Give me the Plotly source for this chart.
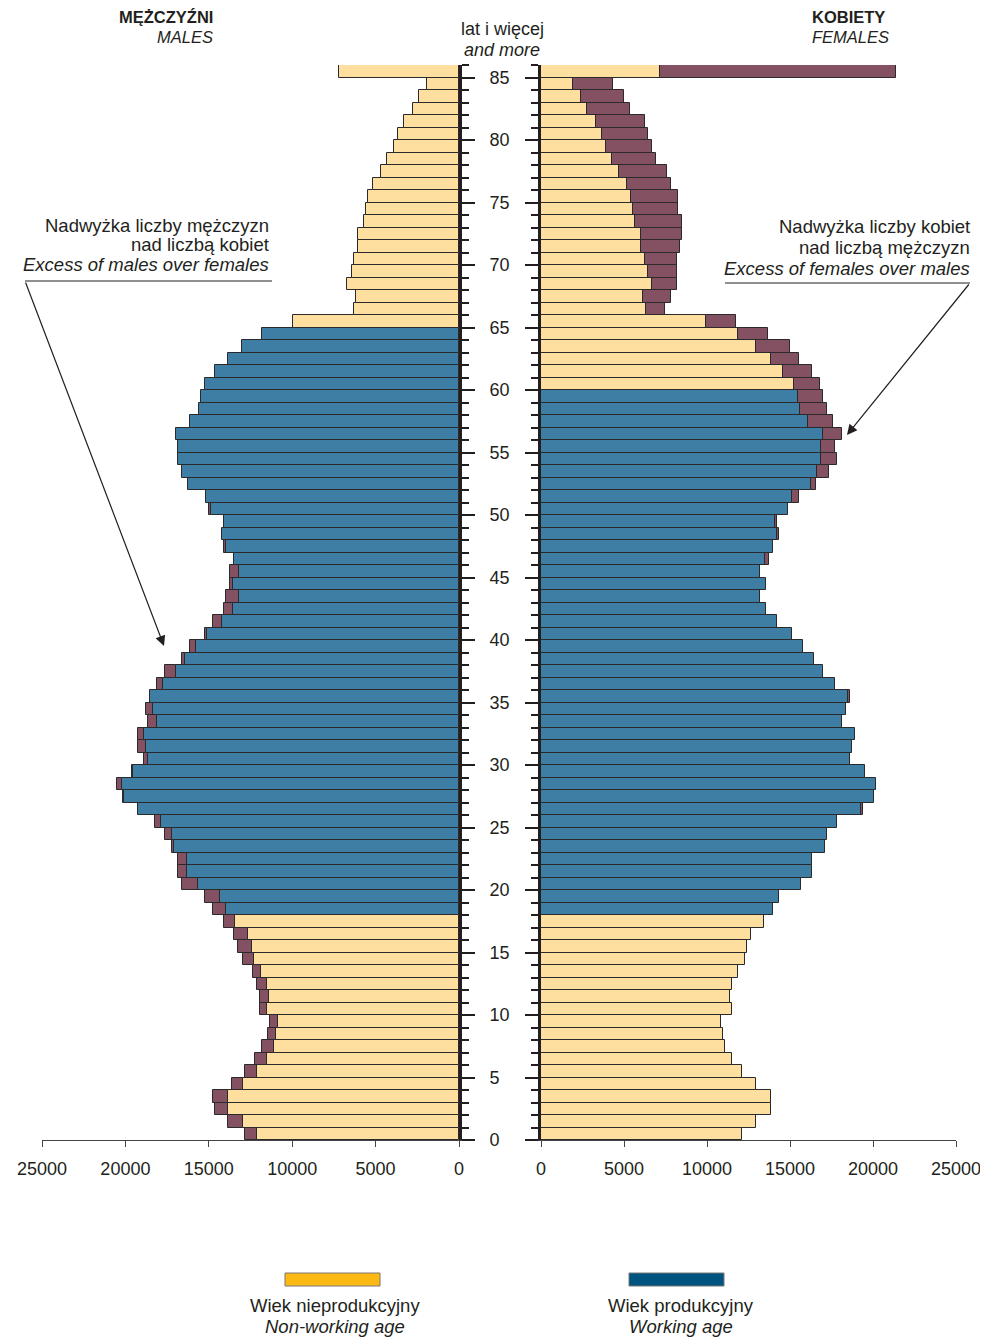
import plotly.graph_objects as go

# ---------------- data (age 0 .. 85+) ----------------
ages = list(range(0, 86))
age_ticks = list(range(0, 86, 5))
x_ticks = [0, 5000, 10000, 15000, 20000, 25000]

males = [12840, 13840, 14600, 14740, 13600, 12840, 12220, 11840, 11460, 11340,
         11960, 11960, 12100, 12340, 12960, 13220, 13480, 14100, 14740, 15220,
         16600, 16850, 16850, 17230, 17630, 18250, 19250, 20150, 20510, 19630,
         18910, 19250, 19250, 18630, 18750, 18500, 18110, 17630, 16600, 16120,
         15220, 14740, 14100, 13980, 13700, 13740, 13500, 14100, 14220, 14100,
         14980, 15150, 16240, 16630, 16870, 16870, 16990, 16110, 15610, 15490,
         15250, 14600, 13840, 12980, 11840, 9930, 6310, 6170, 6690, 6430,
         6290, 6030, 6030, 5690, 5570, 5430, 5170, 4670, 4290, 3920,
         3670, 3290, 2780, 2400, 1900, 7170]

females = [12130, 12930, 13830, 13830, 12930, 12130, 11490, 11110, 10970, 10830,
           11490, 11370, 11490, 11890, 12270, 12410, 12670, 13450, 13950, 14350,
           15660, 16300, 16300, 17080, 17200, 17860, 19400, 20060, 20200, 19540,
           18620, 18760, 18900, 18120, 18360, 18640, 17720, 16960, 16450, 15790,
           15130, 14210, 13570, 13190, 13570, 13190, 13710, 13950, 14350, 14230,
           14860, 15520, 16560, 17360, 17860, 17720, 18140, 17600, 17240, 16960,
           16820, 16300, 15520, 15010, 13690, 11730, 7440, 7840, 8220, 8220,
           8220, 8360, 8520, 8520, 8240, 8240, 7820, 7580, 6920, 6680,
           6420, 6280, 5360, 5000, 4320, 21400]

male_working = (18, 64)
female_working = (18, 59)

# ---------------- styling ----------------
PAGE_W, PAGE_H = 988, 1338
OFF = 8  # page body margin
W, H = PAGE_W - OFF, PAGE_H - OFF
C_NONWORK = "#FFDF9F"
C_WORK = "#3E7EA4"
C_EXCESS = "#845162"
C_LEG_NONWORK = "#FDB913"
C_LEG_WORK = "#005580"
INK = "#231F20"
FONT = "Liberation Sans"
OUTLINE = dict(color="#2a2a2a", width=1)


def px(x):
    return (x - OFF) / W


def py(y):
    return 1 - (y - OFF) / H


fig = go.Figure()


def add_side(own, other, working, xa, ya):
    lo = [min(a, b) for a, b in zip(own, other)]
    nw_y, nw_x, w_y, w_x, ex_y, ex_x, ex_b = [], [], [], [], [], [], []
    for i, age in enumerate(ages):
        if working[0] <= age <= working[1]:
            w_y.append(age + 0.5); w_x.append(lo[i])
        else:
            nw_y.append(age + 0.5); nw_x.append(lo[i])
        if own[i] > other[i]:
            ex_y.append(age + 0.5); ex_x.append(own[i] - other[i]); ex_b.append(lo[i])
    common = dict(orientation="h", width=1, xaxis=xa, yaxis=ya,
                  showlegend=False, hoverinfo="x+y")
    fig.add_trace(go.Bar(y=nw_y, x=nw_x, marker=dict(color=C_NONWORK, line=OUTLINE), **common))
    fig.add_trace(go.Bar(y=w_y, x=w_x, marker=dict(color=C_WORK, line=OUTLINE), **common))
    fig.add_trace(go.Bar(y=ex_y, x=ex_x, base=ex_b, marker=dict(color=C_EXCESS, line=OUTLINE), **common))


add_side(males, females, male_working, "x", "y")
add_side(females, males, female_working, "x2", "y2")

ydom = [py(1140), py(65)]
xaxis_common = dict(
    tickvals=x_ticks, ticktext=[str(v) for v in x_ticks],
    ticks="outside", ticklen=6, tickwidth=1, tickcolor="#444",
    showline=True, linecolor="#444", linewidth=1,
    showgrid=False, zeroline=False, automargin=False,
    tickfont=dict(family=FONT, size=18, color=INK),
    ticklabelstandoff=6,
)
yaxis_common = dict(
    range=[0, 86], tick0=0, dtick=5,
    ticks="outside", ticklen=13, tickwidth=2, tickcolor=INK,
    minor=dict(dtick=1, ticks="outside", ticklen=7, tickwidth=2, tickcolor=INK),
    showline=True, linecolor=INK, linewidth=3,
    showgrid=False, zeroline=False, automargin=False,
    tickfont=dict(family=FONT, size=18, color=INK),
)

fig.update_layout(
    width=W, height=H, autosize=False,
    margin=dict(l=0, r=0, t=0, b=0, pad=0),
    paper_bgcolor="white", plot_bgcolor="white",
    barmode="overlay", bargap=0,
    font=dict(family=FONT, color=INK),
    xaxis=dict(domain=[px(42), px(459)], range=[25000, 0], anchor="y", **xaxis_common),
    xaxis2=dict(domain=[px(541), px(956)], range=[0, 25000], anchor="y2", **xaxis_common),
    yaxis=dict(domain=ydom, anchor="x", side="right", showticklabels=True,
               ticklabelstandoff=11, **yaxis_common),
    yaxis2=dict(domain=ydom, anchor="x2", side="left", showticklabels=False, **yaxis_common),
)

# ---------------- texts ----------------
ann = []


def text(x, y, s, anchor="center", size=18.5, bold=False, italic=False):
    if bold:
        s = "<b>" + s + "</b>"
    if italic:
        s = "<i>" + s + "</i>"
    ann.append(dict(x=px(x), y=py(y), xref="paper", yref="paper", text=s,
                    showarrow=False, xanchor=anchor, yanchor="middle",
                    font=dict(family=FONT, size=size, color=INK)))


text(215, 17, "MĘŻCZYŹNI", "right", 16.5, bold=True)
text(215, 37, "MALES", "right", 16.5, italic=True)
text(810, 17, "KOBIETY", "left", 16.5, bold=True)
text(810, 37, "FEMALES", "left", 16.5, italic=True)
text(502, 29, "lat i więcej", "center", 18)
text(502, 50, "and more", "center", 18, italic=True)

text(271, 225, "Nadwyżka liczby mężczyzn", "right")
text(271, 245, "nad liczbą kobiet", "right")
text(271, 264, "Excess of males over females", "right", italic=True)
text(972, 227, "Nadwyżka liczby kobiet", "right")
text(972, 247, "nad liczbą mężczyzn", "right")
text(972, 268, "Excess of females over males", "right", italic=True)

text(335, 1305, "Wiek nieprodukcyjny", "center")
text(335, 1326, "Non-working age", "center", italic=True)
text(681, 1305, "Wiek produkcyjny", "center")
text(681, 1326, "Working age", "center", italic=True)

# arrows
ann.append(dict(x=px(164), y=py(646), xref="paper", yref="paper", text="",
                showarrow=True, ax=25 - 164, ay=281 - 646, arrowhead=2,
                arrowsize=1.7, arrowwidth=1.2, arrowcolor=INK, standoff=0))
ann.append(dict(x=px(847), y=py(435), xref="paper", yref="paper", text="",
                showarrow=True, ax=970 - 847, ay=283 - 435, arrowhead=2,
                arrowsize=1.7, arrowwidth=1.2, arrowcolor=INK, standoff=0))
fig.update_layout(annotations=ann)

shapes = [
    dict(type="line", xref="paper", yref="paper", x0=px(25), x1=px(272),
         y0=py(281), y1=py(281), line=dict(color=INK, width=1)),
    dict(type="line", xref="paper", yref="paper", x0=px(725), x1=px(970),
         y0=py(283), y1=py(283), line=dict(color=INK, width=1)),
    dict(type="rect", xref="paper", yref="paper", x0=px(285), x1=px(380),
         y0=py(1286), y1=py(1273), fillcolor=C_LEG_NONWORK, line=dict(color="#777", width=1)),
    dict(type="rect", xref="paper", yref="paper", x0=px(629), x1=px(724),
         y0=py(1286), y1=py(1273), fillcolor=C_LEG_WORK, line=dict(color="#777", width=1)),
]
fig.update_layout(shapes=shapes)

fig.write_html("out.html")
